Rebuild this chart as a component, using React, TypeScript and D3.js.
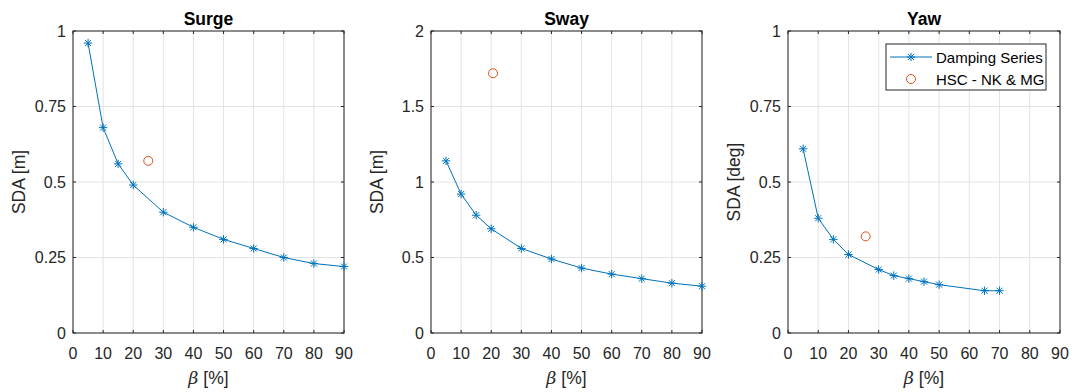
import React from "react";
import * as d3 from "d3";

const surgeX = [5, 10, 15, 20, 30, 40, 50, 60, 70, 80, 90];
const surgeY = [0.96, 0.68, 0.56, 0.49, 0.40, 0.35, 0.31, 0.28, 0.25, 0.23, 0.22];
const surgeHSC = [25, 0.57];

const swayX = [5, 10, 15, 20, 30, 40, 50, 60, 70, 80, 90];
const swayY = [1.14, 0.92, 0.78, 0.69, 0.56, 0.49, 0.43, 0.39, 0.36, 0.33, 0.31];
const swayHSC = [20.6, 1.72];

const yawX = [5, 10, 15, 20, 30, 35, 40, 45, 50, 65, 70];
const yawY = [0.61, 0.38, 0.31, 0.26, 0.21, 0.19, 0.18, 0.17, 0.16, 0.14, 0.14];
const yawHSC = [25.7, 0.32];

const xTicks = [0, 10, 20, 30, 40, 50, 60, 70, 80, 90];
const yTicksSurge = [0, 0.25, 0.5, 0.75, 1];
const yTicksSway = [0, 0.5, 1, 1.5, 2];
const yTicksYaw = [0, 0.25, 0.5, 0.75, 1];

const legendLabels = ["Damping Series", "HSC - NK & MG"];

const BLUE = "#0072BD";
const ORANGE = "#D95319";
const AXIS = "#262626";
const GRID = "#e3e3e3";
const FONT = "'Liberation Sans', Arial, Helvetica, sans-serif";

const top = 31;
const bottom = 333;

function Star({ x, y }: { x: number; y: number }) {
  const r = 4.2;
  const d = r * 0.72;
  return (
    <g stroke={BLUE} strokeWidth={1}>
      <line x1={x - r} y1={y} x2={x + r} y2={y} />
      <line x1={x} y1={y - r} x2={x} y2={y + r} />
      <line x1={x - d} y1={y - d} x2={x + d} y2={y + d} />
      <line x1={x - d} y1={y + d} x2={x + d} y2={y - d} />
    </g>
  );
}

function Panel({
  left, right, title, ylabel, xs, ys, hsc, yMax, yTicks, legend,
}: {
  left: number; right: number; title: string; ylabel: string;
  xs: number[]; ys: number[]; hsc: number[]; yMax: number; yTicks: number[]; legend?: boolean;
}) {
  const x = d3.scaleLinear().domain([0, 90]).range([left, right]);
  const y = d3.scaleLinear().domain([0, yMax]).range([bottom, top]);
  const pts: [number, number][] = xs.map((v, i) => [x(v), y(ys[i])]);
  const line = d3.line()(pts) || "";
  const tl = 3;
  const fmt = (v: number) => String(v);
  return (
    <g fontFamily={FONT}>
      {xTicks.map((t) => (
        <line key={"gx" + t} x1={x(t)} x2={x(t)} y1={top} y2={bottom} stroke={GRID} strokeWidth={1} />
      ))}
      {yTicks.map((t) => (
        <line key={"gy" + t} x1={left} x2={right} y1={y(t)} y2={y(t)} stroke={GRID} strokeWidth={1} />
      ))}
      <rect x={left} y={top} width={right - left} height={bottom - top} fill="none" stroke={AXIS} strokeWidth={1} />
      {xTicks.map((t) => (
        <g key={"tx" + t}>
          <line x1={x(t)} x2={x(t)} y1={bottom} y2={bottom - tl} stroke={AXIS} />
          <line x1={x(t)} x2={x(t)} y1={top} y2={top + tl} stroke={AXIS} />
          <text x={x(t)} y={353} textAnchor="middle" dominantBaseline="central" fontSize={16} fill={AXIS}>{fmt(t)}</text>
        </g>
      ))}
      {yTicks.map((t) => (
        <g key={"ty" + t}>
          <line x1={left} x2={left + tl} y1={y(t)} y2={y(t)} stroke={AXIS} />
          <line x1={right} x2={right - tl} y1={y(t)} y2={y(t)} stroke={AXIS} />
          <text x={left - 7} y={y(t)} textAnchor="end" dominantBaseline="central" fontSize={16} fill={AXIS}>{fmt(t)}</text>
        </g>
      ))}
      <text x={(left + right) / 2} y={19} textAnchor="middle" dominantBaseline="central" fontSize={17.5} fontWeight="bold" fill="#000">{title}</text>
      <text x={(left + right) / 2} y={378} textAnchor="middle" dominantBaseline="central" fontSize={17.5} fill={AXIS}>
        <tspan fontStyle="italic" fontFamily="'DejaVu Serif', serif">β</tspan> [%]
      </text>
      <text transform={`translate(${left - 54},${(top + bottom) / 2}) rotate(-90)`} textAnchor="middle" dominantBaseline="central" fontSize={17.5} fill={AXIS}>{ylabel}</text>
      <path d={line} fill="none" stroke={BLUE} strokeWidth={1} />
      {pts.map((p, i) => <Star key={"s" + i} x={p[0]} y={p[1]} />)}
      <circle cx={x(hsc[0])} cy={y(hsc[1])} r={4.5} fill="none" stroke={ORANGE} strokeWidth={1} />
      {legend && (
        <g>
          <rect x={886} y={44} width={160} height={46} fill="#fff" stroke={AXIS} strokeWidth={1} />
          <line x1={890} x2={932} y1={57} y2={57} stroke={BLUE} strokeWidth={1} />
          <Star x={911} y={57} />
          <text x={936} y={57} dominantBaseline="central" fontSize={15} fill="#000">{legendLabels[0]}</text>
          <circle cx={911} cy={79} r={4.5} fill="none" stroke={ORANGE} strokeWidth={1} />
          <text x={936} y={79} dominantBaseline="central" fontSize={15} fill="#000">{legendLabels[1]}</text>
        </g>
      )}
    </g>
  );
}

export default function App() {
  return (
    <svg width={1072} height={392} style={{ position: "absolute", left: 0, top: 0, background: "#fff" }}>
      <rect width={1072} height={392} fill="#fff" />
      <Panel left={73} right={344} title="Surge" ylabel="SDA [m]" xs={surgeX} ys={surgeY} hsc={surgeHSC} yMax={1} yTicks={yTicksSurge} />
      <Panel left={431} right={702} title="Sway" ylabel="SDA [m]" xs={swayX} ys={swayY} hsc={swayHSC} yMax={2} yTicks={yTicksSway} />
      <Panel left={788} right={1060} title="Yaw" ylabel="SDA [deg]" xs={yawX} ys={yawY} hsc={yawHSC} yMax={1} yTicks={yTicksYaw} legend />
    </svg>
  );
}
